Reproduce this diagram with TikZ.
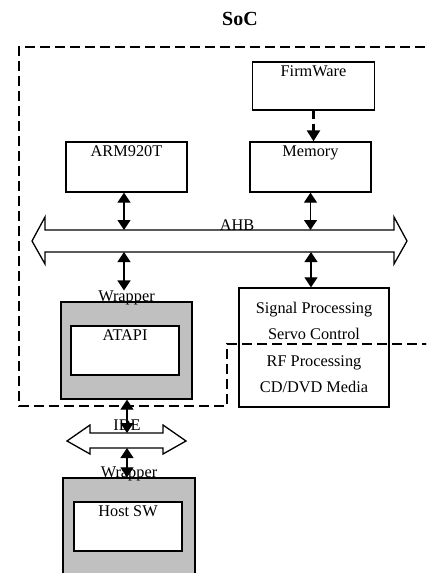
\documentclass[tikz,border=0pt]{standalone}
\usepackage{fontspec}
\setmainfont{Liberation Serif}
\usetikzlibrary{arrows.meta}
\definecolor{wrapgray}{RGB}{192,192,192}
\tikzset{
  txt/.style={font=\fontsize{16.3}{18}\selectfont},
  box/.style={draw, line width=1.4pt, inner sep=0pt, fill=white},
  graybox/.style={draw, line width=1.4pt, inner sep=0pt, fill=wrapgray},
  toplabel/.style={label={[txt, anchor=north, inner sep=0pt, yshift=-4pt]north:#1}},
  wraplabel/.style={label={[txt, anchor=base, inner sep=0pt, name=#1]north:Wrapper}},
  dbl/.style={line width=1.3pt, {Triangle[width=13pt,length=10pt]}-{Triangle[width=13pt,length=10pt]}},
  soc/.style={line width=2.5pt, dash pattern=on 10pt off 5pt},
  busarrow/.style={draw, line width=1.3pt, fill=white, line join=miter}
}
\begin{document}
\begin{tikzpicture}[x=1pt,y=-1pt]
\path[use as bounding box, clip] (0,0) rectangle (426,573);
\fill[white] (0,0) rectangle (426,573);

% title
\node[font=\bfseries\fontsize{20}{24}\selectfont, anchor=base] (title) at (240,25) {SoC};

% SoC boundary
\draw[soc] (440,47) -- (19,47) -- (19,406) -- (227,406) -- (227,344) -- (440,344);

% boxes
\node[box, minimum width=122pt, minimum height=48pt, toplabel=FirmWare] (fw) at (313.5,86) {};
\node[box, minimum width=121pt, minimum height=50pt, toplabel=Memory] (mem) at (310.5,167) {};
\node[box, minimum width=121pt, minimum height=50pt, toplabel=ARM920T] (arm) at (126.5,167) {};

% AHB bus
\draw[busarrow] (45,230) -- (394,230) -- (394,217) -- (407,241) -- (394,264) -- (394,252)
  -- (45,252) -- (45,264) -- (32,241) -- (45,217) -- cycle;
\coordinate (ahbN) at (220,230);
\coordinate (ahbS) at (220,252);
\node[txt, anchor=base, inner sep=0pt] (ahblabel) at (237,230) {AHB};

% firmware -> memory
\draw[line width=2.5pt, dash pattern=on 8pt off 5pt, -{Triangle[width=13pt,length=11pt]}] (fw.south) -- (fw.south |- mem.north);

% ARM & memory to AHB
\draw[dbl] ([xshift=-2.5pt]arm.south) -- ([xshift=-2.5pt]arm.south |- ahbN);
\draw[dbl] (mem.south) -- (mem.south |- ahbN);

% wrapper ATAPI
\node[graybox, minimum width=131pt, minimum height=97pt, wraplabel=wrapAlab] (wrapA) at (126.5,350.5) {};
\node[box, minimum width=108pt, minimum height=49pt, toplabel=ATAPI] (atapi) at (125,350.5) {};

% signal processing
\node[box, minimum width=150pt, minimum height=119pt, txt, align=center,
  font=\fontsize{16.3}{26.3}\selectfont] (sig) at (314,347.5)
  {Signal Processing\\Servo Control\\RF Processing\\CD/DVD Media};
% dashed segment across the signal box
\draw[soc] (227,344) -- (440,344);

\draw[dbl] ([xshift=-2.5pt]arm.south |- ahbS) -- ([xshift=-2.5pt]arm.south |- wrapAlab.north);
\draw[dbl] ([xshift=-3pt]sig.north |- ahbS) -- ([xshift=-3pt]sig.north);

% IDE bus
\draw[busarrow] (90,433) -- (163,433) -- (163,425) -- (186,441) -- (163,454) -- (163,448)
  -- (90,448) -- (90,454) -- (67,441) -- (90,425) -- cycle;
\coordinate (ideN) at (127,433);
\coordinate (ideS) at (127,448);
\node[txt, anchor=base, inner sep=0pt] (idelabel) at (127,430) {IDE};

% wrapper Host SW
\node[graybox, minimum width=132pt, minimum height=122pt, wraplabel=wrapBlab] (wrapB) at (129,539) {};
\node[box, minimum width=108pt, minimum height=49pt, toplabel=Host SW] (host) at (128,526.5) {};

\draw[dbl] (ideN |- wrapA.south) -- (ideN);
\draw[dbl] (ideS) -- (ideS |- wrapB.north);
\end{tikzpicture}
\end{document}
